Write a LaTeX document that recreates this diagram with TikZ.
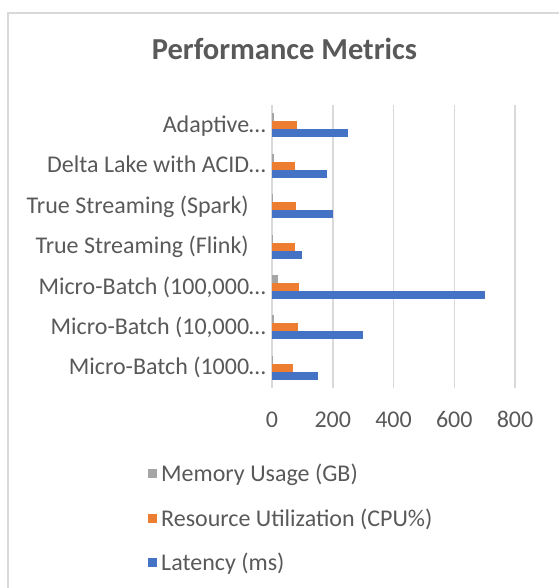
\documentclass[tikz,border=0pt]{standalone}
\usepackage{fontspec}
\setmainfont{Carlito}
\definecolor{txt}{HTML}{595959}
\definecolor{gridc}{HTML}{D9D9D9}
\definecolor{bluec}{HTML}{4472C4}
\definecolor{orangec}{HTML}{ED7D31}
\definecolor{grayc}{HTML}{A5A5A5}
\tikzset{
  lbl/.style={font=\fontsize{24}{28}\selectfont, text=txt, inner sep=0pt},
  ttl/.style={font=\fontsize{30.5}{36}\selectfont\bfseries, text=txt, inner sep=0pt},
  gridline/.style={draw=gridc, line width=1.5pt},
  keybox/.style={minimum size=9pt, inner sep=0pt, draw=none}
}
\begin{document}
\begin{tikzpicture}[x=1pt,y=-1pt]
\useasboundingbox (0,0) rectangle (559,588);
% chart border
\draw[gridline] (8,588) -- (8,13) -- (559,13);
% title
\node[ttl, anchor=base] (title) at (284.5,60) {Performance Metrics};
% gridlines and tick labels
\foreach \v in {0,200,400,600,800}{
  \draw[gridline] ({272+0.30375*\v},105) -- ({272+0.30375*\v},388);
  \node[lbl, anchor=base] (tick\v) at ({272+0.30375*\v},427) {\v};
}
% bars: k, memory, cpu, latency
\foreach \k/\m/\c/\l in {0/8/82/250, 1/5/77/180, 2/4/79/200, 3/3/75/100, 4/19/89/700, 5/8/85/300, 6/2/70/150}{
  \pgfmathsetmacro{\cy}{105+(\k+0.5)*40.43}
  \fill[grayc] (272,\cy-12) rectangle ({272+0.30375*\m},\cy-4);
  \fill[orangec] (272,\cy-4) rectangle ({272+0.30375*\c},\cy+4);
  \fill[bluec] (272,\cy+4) rectangle ({272+0.30375*\l},\cy+12);
}
% category labels
\node[lbl, anchor=base east] (c0) at (266,{105+0.5*40.43+7.2}) {Adaptive…};
\node[lbl, anchor=base east] (c1) at (266,{105+1.5*40.43+7.2}) {Delta Lake with ACID…};
\node[lbl, anchor=base east] (c2) at (249,{105+2.5*40.43+7.2}) {True Streaming (Spark)};
\node[lbl, anchor=base east] (c3) at (249,{105+3.5*40.43+7.2}) {True Streaming (Flink)};
\node[lbl, anchor=base east] (c4) at (266,{105+4.5*40.43+7.2}) {Micro-Batch (100,000…};
\node[lbl, anchor=base east] (c5) at (266,{105+5.5*40.43+7.2}) {Micro-Batch (10,000…};
\node[lbl, anchor=base east] (c6) at (266,{105+6.5*40.43+7.2}) {Micro-Batch (1000…};
% legend
\node[keybox, fill=grayc] (k1) at (152.5,473.5) {};
\node[lbl, anchor=base west] (l1) at (161,481) {Memory Usage (GB)};
\node[keybox, fill=orangec] (k2) at (152.5,518.5) {};
\node[lbl, anchor=base west] (l2) at (161,526) {Resource Utilization (CPU\%)};
\node[keybox, fill=bluec] (k3) at (152.5,562.5) {};
\node[lbl, anchor=base west] (l3) at (161,570) {Latency (ms)};
\end{tikzpicture}
\end{document}
